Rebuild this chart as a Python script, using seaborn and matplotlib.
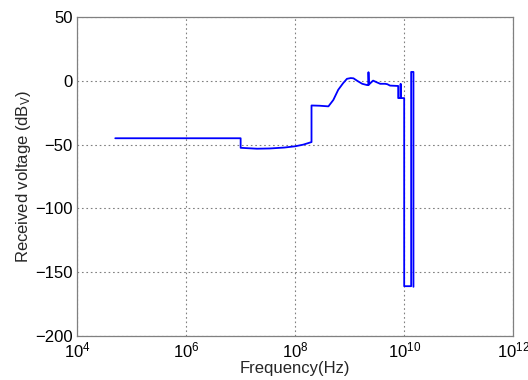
import numpy as np
import pandas as pd
import matplotlib
matplotlib.use("Agg")
import matplotlib.pyplot as plt
import seaborn as sns
from matplotlib.ticker import FixedLocator, LogFormatterSciNotation, NullLocator

# Frequency sweep, expressed as log10(Hz), and received voltage in dBV
log_freq = [4.70, 7.00, 7.00, 7.30, 7.54, 7.80, 8.00, 8.15, 8.30, 8.30,
            8.45, 8.61, 8.70, 8.79, 8.88, 8.95, 9.02, 9.07, 9.14, 9.23,
            9.32, 9.345, 9.345, 9.35, 9.43, 9.49, 9.56, 9.65, 9.69, 9.74,
            9.89, 9.89, 9.935, 9.935, 9.935, 10.00, 10.00, 10.128, 10.128,
            10.17, 10.17]
voltage_db = [-45.0, -45.0, -52.5, -53.2, -53.0, -52.3, -51.3, -50.0, -48.0, -19.3,
              -19.5, -20.0, -15.0, -7.0, -1.8, 1.6, 2.2, 2.0, 0.0, -2.3,
              -3.3, -3.3, 6.8, -3.0, 0.2, -1.0, -2.3, -2.3, -2.6, -3.7,
              -4.0, -13.5, -13.5, -2.5, -13.5, -13.5, -161.0, -161.0, 7.0,
              7.0, -161.5]

x_ticks = [1e4, 1e6, 1e8, 1e10, 1e12]
y_ticks = [-200, -150, -100, -50, 0, 50]

sns.set_style("white")
plt.rcParams["font.family"] = ["Liberation Sans", "DejaVu Sans"]
plt.rcParams["mathtext.default"] = "regular"

df = pd.DataFrame({"freq": np.power(10.0, log_freq), "voltage": voltage_db})

fig = plt.figure(figsize=(5.28, 3.80), dpi=100)
ax = fig.add_axes([0.146, 0.116, 0.826, 0.839])

sns.lineplot(data=df, x="freq", y="voltage", sort=False, estimator=None,
             color="#0000ff", linewidth=1.3, ax=ax)

ax.set_xscale("log")
ax.set_xlim(1e4, 1e12)
ax.set_ylim(-200, 50)
ax.xaxis.set_major_locator(FixedLocator(x_ticks))
ax.xaxis.set_major_formatter(LogFormatterSciNotation())
ax.xaxis.set_minor_locator(NullLocator())
ax.set_yticks(y_ticks)

ax.grid(True, which="major", linestyle=(0, (1.5, 2.5)), color="#808080", linewidth=0.8)
for s in ax.spines.values():
    s.set_color("#808080")
    s.set_linewidth(0.9)
    s.set_visible(True)

ax.tick_params(axis="both", direction="in", length=0,
               labelsize=12, labelcolor="black", pad=3)
ax.set_xlabel("Frequency(Hz)", fontsize=12, labelpad=1)
ax.set_ylabel("Received voltage (dB$_V$)", fontsize=12, labelpad=2)

fig.savefig("out.png", dpi=100, facecolor="white")
